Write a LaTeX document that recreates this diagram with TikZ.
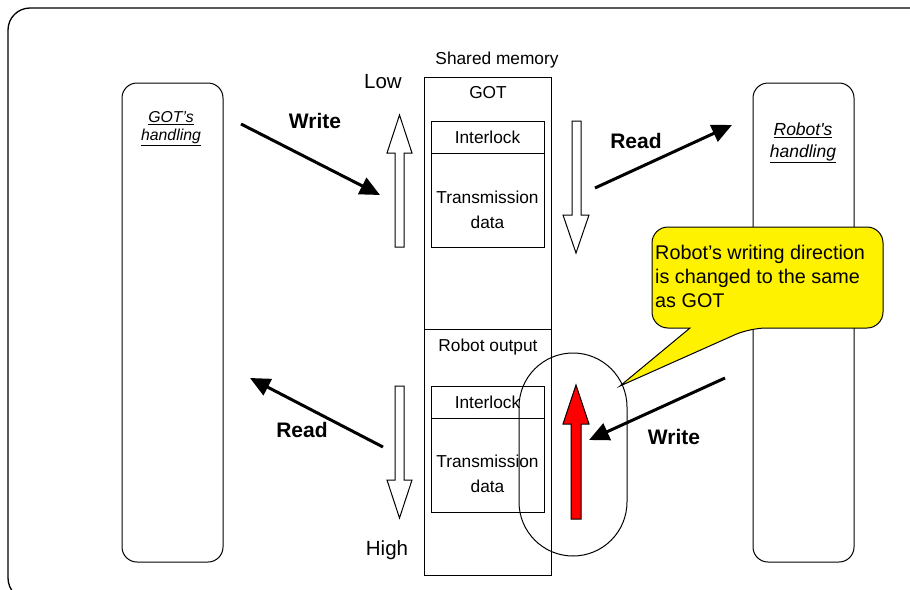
\documentclass[tikz,border=0pt]{standalone}
\usepackage{fontspec}
\setmainfont{Liberation Sans}
\usetikzlibrary{arrows.meta}
\begin{document}
\begin{tikzpicture}[x=1pt,y=-1pt]

\tikzstyle{thin}     = [draw, line width=1pt, black]
\tikzstyle{cell}     = [thin, rectangle, inner sep=0pt, outer sep=0pt]
\tikzstyle{handler}  = [cell, rounded corners=15pt, minimum width=101pt, minimum height=479pt]
\tikzstyle{memtxt}   = [font=\fontsize{17.3}{25}\selectfont, align=center]
\tikzstyle{lbl}      = [font=\fontsize{20.5}{24}\selectfont]
\tikzstyle{act}      = [font=\bfseries\fontsize{21}{24}\selectfont]
\tikzstyle{flow}     = [line width=3pt, -{Triangle[length=20pt,width=18pt]}]
\tikzstyle{bigarrow} = [thin, fill=white, line join=miter]

\useasboundingbox (0,0) rectangle (910,589);
\draw [line width=1.3pt, rounded corners=22pt] (8,8) rectangle (932,600);

% both sides
\node [handler] (GOTside)   at (172.5,322.5) {};
\node [handler] (Robotside) at (803.5,322.5) {};
\node [align=center, font=\itshape\fontsize{15.8}{18}\selectfont] (GOTlbl) at (171,129)
  {\underline{GOT’s}\\\underline{handling}};
\node [align=center, font=\itshape\fontsize{17.5}{22}\selectfont] (Robotlbl) at (803,143)
  {\underline{Robot\textquotesingle s}\\\underline{handling}};

% shared memory
\node [cell, minimum width=127pt, minimum height=498pt] (mem) at (487.5,326) {};
\draw [thin] (424,329) -- (551,329);
\node [memtxt] (memlbl) at (497,60) {Shared memory};
\node [memtxt] (GOTarea) at (488,93) {GOT};
\node [memtxt] (Robotarea) at (488,347) {Robot output};

\node [cell, minimum width=113pt, minimum height=32pt] (IL1) at (487.5,137) {};
\node [cell, minimum width=113pt, minimum height=94pt] (TD1) at (487.5,200) {};
\node [memtxt] at (IL1) {Interlock};
\node [memtxt] at (487.5,210) {Transmission\\data};

\node [cell, minimum width=113pt, minimum height=32pt] (IL2) at (487.5,402) {};
\node [cell, minimum width=113pt, minimum height=94pt] (TD2) at (487.5,465) {};
\node [memtxt] at (IL2) {Interlock};
\node [memtxt] at (487.5,474) {Transmission\\data};

\node [lbl] (Low)  at (383,82)  {Low};
\node [lbl] (High) at (387,550) {High};

% address direction
\draw [bigarrow] (395,247) -- (395,153) -- (387,153) -- (399.5,115) -- (412,153) -- (404,153) -- (404,247) -- cycle;
\draw [bigarrow] (572,121) -- (572,215) -- (563,215) -- (576,253) -- (589,215) -- (581,215) -- (581,121) -- cycle;
\draw [bigarrow] (395,386) -- (395,480) -- (387,480) -- (399.5,518) -- (412,480) -- (404,480) -- (404,386) -- cycle;
\draw [bigarrow, fill=red] (571,519) -- (571,424) -- (563,424) -- (576,385) -- (589,424) -- (581,424) -- (581,519) -- cycle;

% accesses
\coordinate (w1s) at (241,124);  \coordinate (w1e) at (380,195);
\coordinate (r1s) at (595,188);  \coordinate (r1e) at (732,125);
\coordinate (r2s) at (383,447);  \coordinate (r2e) at (250,378);
\coordinate (w2s) at (725,378);  \coordinate (w2e) at (589,440);
\draw [flow] (w1s) -- (w1e);
\draw [flow] (r1s) -- (r1e);
\draw [flow] (r2s) -- (r2e);
\draw [flow] (w2s) -- (w2e);
\node [act] (W1) at (315,121) {Write};
\node [act] (R1) at (636,141) {Read};
\node [act] (R2) at (302,430) {Read};
\node [act] (W2) at (674,437) {Write};

% changed part
\node [cell, rounded corners=54pt, minimum width=108pt, minimum height=203pt] (focus) at (573,454.5) {};
\coordinate (tip) at (620,386);
\draw [thin, fill=yellow] (652,280) [rounded corners=16pt] |- (883,227) |- (750,328)
  [sharp corners] -- (tip) -- (690,328) [rounded corners=16pt] -- (652,328) -- cycle;
\node [anchor=north west, inner sep=0pt, align=left, font=\fontsize{19.8}{24}\selectfont] (note) at (655,245)
  {Robot’s writing direction\\is changed to the same\\as GOT};

\end{tikzpicture}
\end{document}
